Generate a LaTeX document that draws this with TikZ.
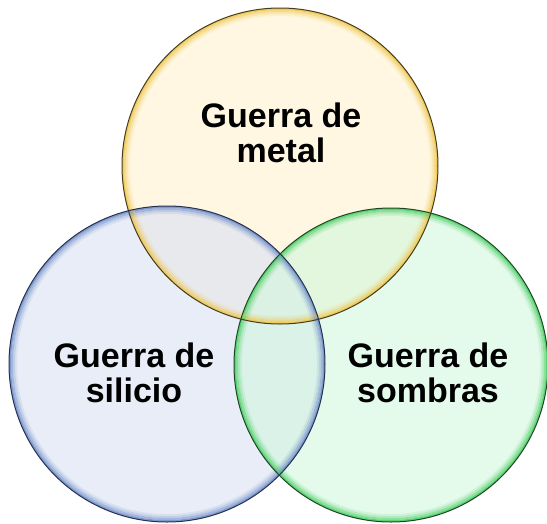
\documentclass[tikz,border=0pt]{standalone}
\usepackage{fontspec}
\setmainfont{Liberation Sans}
\usepackage{tikz}

\definecolor{metalfill}{RGB}{255,242,205}
\definecolor{metalring}{RGB}{238,196,72}
\definecolor{metalline}{RGB}{70,60,30}
\definecolor{siliciofill}{RGB}{217,225,243}
\definecolor{silicioring}{RGB}{110,140,200}
\definecolor{silicioline}{RGB}{40,50,80}
\definecolor{sombrasfill}{RGB}{210,247,222}
\definecolor{sombrasring}{RGB}{70,205,95}
\definecolor{sombrasline}{RGB}{30,70,40}

\begin{document}
\begin{tikzpicture}[x=1pt, y=-1pt,
  label text/.style={font=\bfseries\fontsize{34}{35}\selectfont, align=center, inner sep=0pt}]
\useasboundingbox (0,0) rectangle (547,523);

% fills
\fill[metalfill, fill opacity=0.6] (280,166) circle (158);
\fill[siliciofill, fill opacity=0.6] (167,364) circle (158);
\fill[sombrasfill, fill opacity=0.6] (391,365) circle (157);

% inner glow of each ring
\foreach \d/\o in {1/0.85, 3/0.55, 5/0.3, 7/0.12} {
  \draw[metalring, line width=2pt, opacity=\o] (280,166) circle (158-\d);
  \draw[silicioring, line width=2pt, opacity=\o] (167,364) circle (158-\d);
  \draw[sombrasring, line width=2pt, opacity=\o] (391,365) circle (157-\d);
}

% outlines
\draw[metalline, line width=1pt] (280,166) circle (158);
\draw[silicioline, line width=1pt] (167,364) circle (158);
\draw[sombrasline, line width=1pt] (391,365) circle (157);

\node[label text] (metal) at (281,133) {Guerra de\\metal};
\node[label text] (silicio) at (134,373) {Guerra de\\silicio};
\node[label text] (sombras) at (428,373) {Guerra de\\sombras};
\end{tikzpicture}
\end{document}
